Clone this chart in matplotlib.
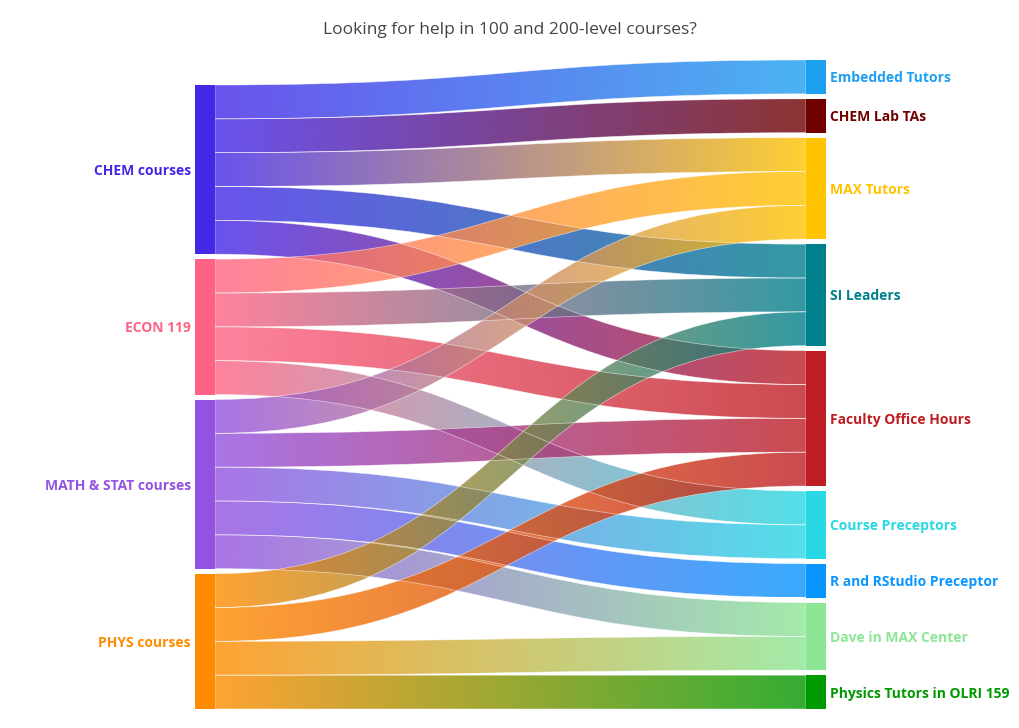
import numpy as np
import matplotlib
matplotlib.use("Agg")
import matplotlib.pyplot as plt
from matplotlib.path import Path
from matplotlib.patches import PathPatch, Rectangle
from matplotlib.colors import to_rgb

title = "Looking for help in 100 and 200-level courses?"

sources = ["CHEM courses", "ECON 119", "MATH & STAT courses", "PHYS courses"]
source_colors = ["#4428E8", "#FF6384", "#9452E0", "#FF8C00"]

targets = ["Embedded Tutors", "CHEM Lab TAs", "MAX Tutors", "SI Leaders",
           "Faculty Office Hours", "Course Preceptors", "R and RStudio Preceptor",
           "Dave in MAX Center", "Physics Tutors in OLRI 159"]
target_colors = ["#1EA0F0", "#700000", "#FFC300", "#00808C", "#BE1E23",
                 "#28D8E4", "#0A96FF", "#8CE696", "#009900"]

link_source = [0, 0, 0, 0, 0,
               1, 1, 1, 1,
               2, 2, 2, 2, 2,
               3, 3, 3, 3]
link_target = [0, 1, 2, 3, 4,
               2, 3, 4, 5,
               2, 4, 5, 6, 7,
               3, 4, 7, 8]
link_value = [1] * 18

plt.rcParams["font.family"] = ["Open Sans", "DejaVu Sans"]

W, H = 1020, 728
fig = plt.figure(figsize=(W / 100, H / 100), dpi=100)
ax = fig.add_axes([0, 0, 1, 1])
ax.set_xlim(0, W)
ax.set_ylim(H, 0)
ax.axis("off")

top, bottom = 60, 709
x_src, x_tgt, node_w = 195, 806, 20
pad = 5
alpha = 0.8

src_tot = np.zeros(len(sources))
tgt_tot = np.zeros(len(targets))
for s, t, v in zip(link_source, link_target, link_value):
    src_tot[s] += v
    tgt_tot[t] += v

max_nodes = max(len(sources), len(targets))
k = ((bottom - top) - (max_nodes - 1) * pad) / max(src_tot.sum(), tgt_tot.sum())


def column(tots):
    height = tots.sum() * k + (len(tots) - 1) * pad
    y = bottom - height
    ys = []
    for v in tots:
        ys.append(y)
        y += v * k + pad
    return np.array(ys)


src_y = column(src_tot)
tgt_y = column(tgt_tot)

# link positions within nodes
n = len(link_value)
src_off = {}
order_s = sorted(range(n), key=lambda i: (link_source[i], link_target[i]))
cur = src_y.copy()
for i in order_s:
    src_off[i] = cur[link_source[i]]
    cur[link_source[i]] += link_value[i] * k
tgt_off = {}
order_t = sorted(range(n), key=lambda i: (link_target[i], link_source[i]))
cur = tgt_y.copy()
for i in order_t:
    tgt_off[i] = cur[link_target[i]]
    cur[link_target[i]] += link_value[i] * k

x0 = x_src + node_w
x1 = x_tgt
xm = (x0 + x1) / 2
ngrad = 256
for i in range(n):
    h = link_value[i] * k
    ys0, yt0 = src_off[i], tgt_off[i]
    verts = [(x0, ys0), (xm, ys0), (xm, yt0), (x1, yt0),
             (x1, yt0 + h), (xm, yt0 + h), (xm, ys0 + h), (x0, ys0 + h),
             (x0, ys0)]
    codes = [Path.MOVETO, Path.CURVE4, Path.CURVE4, Path.CURVE4,
             Path.LINETO, Path.CURVE4, Path.CURVE4, Path.CURVE4,
             Path.CLOSEPOLY]
    path = Path(verts, codes)
    patch = PathPatch(path, facecolor="none", edgecolor="none")
    ax.add_patch(patch)
    c0 = np.array(to_rgb(source_colors[link_source[i]]))
    c1 = np.array(to_rgb(target_colors[link_target[i]]))
    tt = np.linspace(0, 1, ngrad)[:, None]
    rgb = c0 * (1 - tt) + c1 * tt
    img = np.zeros((1, ngrad, 4))
    img[0, :, :3] = rgb
    img[0, :, 3] = alpha
    ymin = min(ys0, yt0)
    ymax = max(ys0, yt0) + h
    im = ax.imshow(img, extent=(x0, x1, ymax, ymin), aspect="auto",
                   interpolation="bilinear", zorder=2)
    im.set_clip_path(patch)
    outline = PathPatch(path, facecolor="none", edgecolor="white",
                        linewidth=0.5, alpha=0.6, zorder=3)
    ax.add_patch(outline)

for j, name in enumerate(sources):
    hgt = src_tot[j] * k
    ax.add_patch(Rectangle((x_src, src_y[j]), node_w, hgt,
                           facecolor=source_colors[j], edgecolor="none", zorder=4))
    ax.text(x_src - 4, src_y[j] + hgt / 2 + 1.5, name, ha="right", va="center",
            fontsize=10, fontweight="bold", color=source_colors[j], zorder=5)

for j, name in enumerate(targets):
    hgt = tgt_tot[j] * k
    ax.add_patch(Rectangle((x_tgt, tgt_y[j]), node_w, hgt,
                           facecolor=target_colors[j], edgecolor="none", zorder=4))
    ax.text(x_tgt + node_w + 4, tgt_y[j] + hgt / 2 + 1.5, name, ha="left", va="center",
            fontsize=10, fontweight="bold", color=target_colors[j], zorder=5)

ax.text(W / 2, 29.5, title, ha="center", va="center", fontsize=12.5, color="#444444")

fig.savefig("out.png", dpi=100)
